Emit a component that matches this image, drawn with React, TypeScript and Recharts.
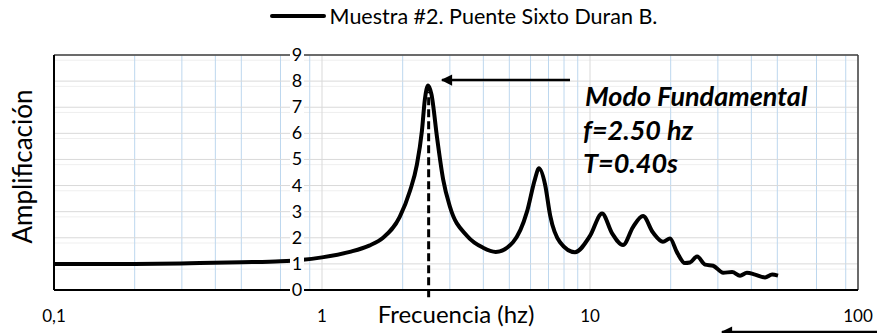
import { LineChart, Line, XAxis, YAxis, CartesianGrid, ReferenceLine, Legend } from "recharts"

// frecuencia (hz) y amplificación
const freq = [
  0.1, 0.2, 0.35, 0.5, 0.7, 0.83, 1.0, 1.27, 1.5, 1.69, 1.95, 2.13, 2.26, 2.36, 2.42, 2.49,
  2.56, 2.69, 2.83, 3.0, 3.48, 3.99, 4.45, 5.16, 5.82, 6.23, 6.45, 6.8, 7.1, 7.73, 8.79, 10.0,
  11.09, 12.09, 13.28, 14.47, 15.77, 17.18, 18.72, 19.89, 21.1, 22.6, 23.6, 25.1, 26.9, 28.8,
  31.4, 33.9, 36.3, 38.5, 41.3, 45.0, 47.8, 50.3,
]
const amp = [
  1.0, 1.0, 1.03, 1.06, 1.1, 1.15, 1.25, 1.46, 1.7, 2.0, 2.8, 3.8, 4.8, 6.1, 7.3, 7.83,
  7.5, 5.8, 4.25, 3.2, 2.07, 1.62, 1.46, 1.83, 3.0, 4.24, 4.66, 4.03, 2.86, 1.83, 1.45, 2.07,
  2.93, 2.17, 1.72, 2.41, 2.83, 2.2, 1.85, 1.97, 1.45, 1.03, 1.05, 1.28, 0.97, 0.93,
  0.66, 0.69, 0.55, 0.66, 0.59, 0.48, 0.59, 0.55,
]

const xTicks = [0.1, 1, 10, 100]
const yTicks = [0, 1, 2, 3, 4, 5, 6, 7, 8, 9]
const seriesName = "Muestra #2. Puente Sixto Duran B."
const fundamental = 2.5

const data = freq.map((f, i) => ({ f, a: amp[i] }))

// rejilla logarítmica secundaria (2..9 de cada década) y horizontal cada 0.2
const xMinor = [0.1, 1, 10].flatMap((d) => [2, 3, 4, 5, 6, 7, 8, 9].map((k) => +(d * k).toFixed(3)))
const yMinor = yTicks.slice(0, 9).flatMap((v) => [0.2, 0.4, 0.6, 0.8].map((s) => +(v + s).toFixed(1)))

const font = "Lato, 'Open Sans', sans-serif"

const YTick = ({ x, y, payload }: any) => (
  <g transform={`translate(${x + 251},${y})`}>
    <rect x={-7} y={-10} width={14} height={20} fill="#fff" />
    <text textAnchor="middle" dy={6} fontSize={18} fill="#000" fontFamily={font}>
      {payload.value}
    </text>
  </g>
)

const YTitle = ({ viewBox }: any) => {
  const cx = 22
  const cy = viewBox.y + viewBox.height / 2 - 6
  return (
    <text
      x={cx}
      y={cy}
      transform={`rotate(-90, ${cx}, ${cy})`}
      textAnchor="middle"
      dominantBaseline="central"
      fontSize={26}
      fill="#000"
      fontFamily={font}
    >
      Amplificación
    </text>
  )
}

const LegendBox = () => (
  <div style={{ display: "flex", justifyContent: "center", alignItems: "center", paddingLeft: 50, fontFamily: font, fontSize: 21.5, color: "#000" }}>
    <svg width={56} height={10} style={{ marginRight: 4 }}>
      <line x1={2} y1={5} x2={54} y2={5} stroke="#000" strokeWidth={4} strokeLinecap="round" />
    </svg>
    <span>{seriesName}</span>
  </div>
)

export default function App() {
  return (
    <div style={{ position: "absolute", left: 0, top: 0, width: 877, height: 333, background: "#fff" }}>
      <LineChart width={877} height={333} data={data} margin={{ top: 29, right: 19, bottom: 13, left: 0 }}>
        <CartesianGrid stroke="#efefef" horizontalValues={yMinor} vertical={false} />
        <CartesianGrid stroke="#bdd7ee" verticalValues={xMinor} horizontal={false} />
        <CartesianGrid stroke="#d9d9d9" horizontalValues={yTicks} verticalValues={xTicks} />
        <XAxis
          dataKey="f"
          type="number"
          scale="log"
          domain={[0.1, 100]}
          ticks={xTicks}
          allowDataOverflow
          height={30}
          tickLine={false}
          axisLine={{ stroke: "#000", strokeWidth: 2 }}
          tickMargin={14}
          tick={{ fontSize: 17, fill: "#000", fontFamily: font }}
          tickFormatter={(v: number) => String(v).replace(".", ",")}
          label={{ value: "Frecuencia (hz)", position: "insideBottom", offset: -3, fontSize: 24, fill: "#000", fontFamily: font }}
        />
        <YAxis
          type="number"
          domain={[0, 9]}
          ticks={yTicks}
          width={54}
          tickLine={false}
          axisLine={{ stroke: "#000", strokeWidth: 2 }}
          tick={<YTick />}
          label={<YTitle />}
        />
        <Legend verticalAlign="top" wrapperStyle={{ top: 3, left: 0, width: 877 }} content={<LegendBox />} />
        <ReferenceLine y={9} stroke="#404040" strokeWidth={1.5} />
        <ReferenceLine x={100} stroke="#404040" strokeWidth={1.5} />
        <ReferenceLine
          segment={[{ x: fundamental, y: -0.28 }, { x: fundamental, y: 7.6 }]}
          stroke="#000"
          strokeWidth={3}
          strokeDasharray="8 4"
          ifOverflow="visible"
        />
        <Line
          dataKey="a"
          name={seriesName}
          type="monotone"
          stroke="#000"
          strokeWidth={4}
          dot={false}
          isAnimationActive={false}
        />
      </LineChart>
      <svg width={877} height={333} style={{ position: "absolute", left: 0, top: 0, pointerEvents: "none" }}>
        <defs>
          <marker id="ah" viewBox="0 0 10 10" refX={9} refY={5} markerWidth={5.5} markerHeight={4.5} orient="auto">
            <path d="M0,0 L10,5 L0,10 z" fill="#000" />
          </marker>
        </defs>
        <line x1={570} y1={80} x2={442} y2={80} stroke="#000" strokeWidth={2.5} markerEnd="url(#ah)" />
        <line x1={877} y1={332} x2={722} y2={332} stroke="#000" strokeWidth={2.5} markerEnd="url(#ah)" />
        <g fontFamily={font} fontWeight="bold" fontStyle="italic" fontSize={27} fill="#000">
          <text x={585} y={106}>Modo Fundamental</text>
          <text x={583} y={140}>f=2.50 hz</text>
          <text x={583} y={173}>T=0.40s</text>
        </g>
      </svg>
    </div>
  )
}
